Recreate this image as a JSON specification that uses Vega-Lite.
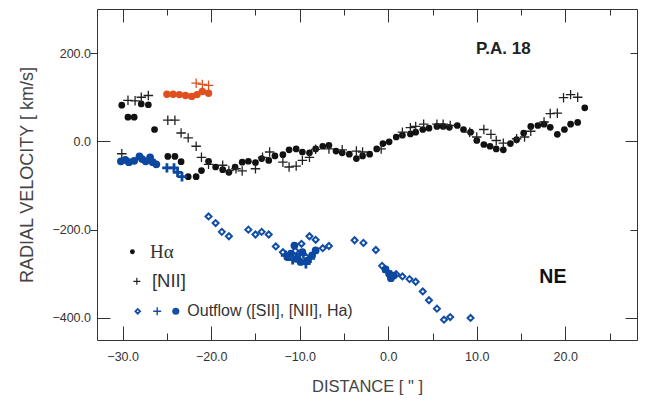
{
  "$schema": "https://vega.github.io/schema/vega-lite/v6.json",
  "width": 540,
  "height": 331,
  "autosize": {"type": "none"},
  "padding": {"left": 97, "top": 9, "right": 10, "bottom": 61},
  "background": "white",
  "config": {
    "view": {"stroke": "#333333", "strokeWidth": 1},
    "axis": {
      "domain": false,
      "grid": false,
      "tickColor": "#333333",
      "tickWidth": 1,
      "labelFont": "Liberation Sans",
      "labelFontSize": 12.5,
      "labelColor": "#333333",
      "titleFont": "Liberation Sans",
      "titleFontWeight": "normal",
      "titleColor": "#444444"
    }
  },
  "datasets": {
    "pts": [
      {"d": -30.1, "v": 82, "s": "ha"}, {"d": -29.4, "v": 55, "s": "ha"}, {"d": -28.7, "v": 55, "s": "ha"},
      {"d": -27.9, "v": 85, "s": "ha"}, {"d": -27.1, "v": 83, "s": "ha"}, {"d": -26.4, "v": 27, "s": "ha"},
      {"d": -24.9, "v": -34, "s": "ha"}, {"d": -24.1, "v": -34, "s": "ha"}, {"d": -23.4, "v": -46, "s": "ha"},
      {"d": -22.6, "v": -80, "s": "ha"}, {"d": -21.7, "v": -80, "s": "ha"}, {"d": -21.1, "v": -66, "s": "ha"},
      {"d": -20.3, "v": -45, "s": "ha"}, {"d": -19.5, "v": -58, "s": "ha"}, {"d": -18.7, "v": -64, "s": "ha"},
      {"d": -18.0, "v": -70, "s": "ha"}, {"d": -17.3, "v": -58, "s": "ha"}, {"d": -16.5, "v": -47, "s": "ha"},
      {"d": -15.8, "v": -45, "s": "ha"}, {"d": -15.0, "v": -48, "s": "ha"}, {"d": -14.3, "v": -39, "s": "ha"},
      {"d": -13.5, "v": -43, "s": "ha"}, {"d": -12.8, "v": -33, "s": "ha"}, {"d": -11.9, "v": -30, "s": "ha"},
      {"d": -11.2, "v": -19, "s": "ha"}, {"d": -10.4, "v": -17, "s": "ha"}, {"d": -9.7, "v": -24, "s": "ha"},
      {"d": -8.9, "v": -26, "s": "ha"}, {"d": -8.2, "v": -17, "s": "ha"}, {"d": -7.4, "v": -11, "s": "ha"},
      {"d": -6.7, "v": -9, "s": "ha"}, {"d": -5.9, "v": -22, "s": "ha"}, {"d": -5.2, "v": -26, "s": "ha"},
      {"d": -4.4, "v": -29, "s": "ha"}, {"d": -3.6, "v": -39, "s": "ha"}, {"d": -2.9, "v": -33, "s": "ha"},
      {"d": -2.1, "v": -29, "s": "ha"}, {"d": -1.3, "v": -17, "s": "ha"}, {"d": -0.6, "v": -5, "s": "ha"},
      {"d": 0.1, "v": -1, "s": "ha"}, {"d": 0.9, "v": 10, "s": "ha"}, {"d": 1.6, "v": 14, "s": "ha"},
      {"d": 2.5, "v": 17, "s": "ha"}, {"d": 3.1, "v": 21, "s": "ha"}, {"d": 3.9, "v": 27, "s": "ha"},
      {"d": 4.6, "v": 30, "s": "ha"}, {"d": 5.5, "v": 34, "s": "ha"}, {"d": 6.2, "v": 34, "s": "ha"},
      {"d": 6.9, "v": 32, "s": "ha"}, {"d": 7.8, "v": 36, "s": "ha"}, {"d": 8.5, "v": 27, "s": "ha"},
      {"d": 9.3, "v": 21, "s": "ha"}, {"d": 10.0, "v": 2, "s": "ha"}, {"d": 10.8, "v": -7, "s": "ha"},
      {"d": 11.5, "v": -11, "s": "ha"}, {"d": 12.2, "v": -17, "s": "ha"}, {"d": 13.0, "v": -19, "s": "ha"},
      {"d": 13.8, "v": -5, "s": "ha"}, {"d": 14.5, "v": 4, "s": "ha"}, {"d": 15.3, "v": 19, "s": "ha"},
      {"d": 16.1, "v": 34, "s": "ha"}, {"d": 16.9, "v": 36, "s": "ha"}, {"d": 17.6, "v": 39, "s": "ha"},
      {"d": 18.3, "v": 32, "s": "ha"}, {"d": 19.1, "v": 16, "s": "ha"}, {"d": 19.9, "v": 27, "s": "ha"},
      {"d": 20.6, "v": 39, "s": "ha"}, {"d": 21.4, "v": 43, "s": "ha"}, {"d": 22.2, "v": 76, "s": "ha"},

      {"d": -30.1, "v": -28, "s": "nii"}, {"d": -29.4, "v": 93, "s": "nii"}, {"d": -28.6, "v": 92, "s": "nii"},
      {"d": -27.9, "v": 100, "s": "nii"}, {"d": -27.1, "v": 104, "s": "nii"}, {"d": -24.9, "v": 48, "s": "nii"},
      {"d": -24.1, "v": 48, "s": "nii"}, {"d": -23.4, "v": 19, "s": "nii"}, {"d": -22.6, "v": 8, "s": "nii"},
      {"d": -21.7, "v": -11, "s": "nii"}, {"d": -21.1, "v": -36, "s": "nii"}, {"d": -20.3, "v": -52, "s": "nii"},
      {"d": -18.7, "v": -54, "s": "nii"}, {"d": -18.0, "v": -66, "s": "nii"}, {"d": -17.2, "v": -62, "s": "nii"},
      {"d": -16.5, "v": -67, "s": "nii"}, {"d": -15.0, "v": -62, "s": "nii"}, {"d": -14.2, "v": -36, "s": "nii"},
      {"d": -13.4, "v": -24, "s": "nii"}, {"d": -11.9, "v": -47, "s": "nii"}, {"d": -11.2, "v": -58, "s": "nii"},
      {"d": -10.4, "v": -56, "s": "nii"}, {"d": -9.7, "v": -43, "s": "nii"}, {"d": -8.9, "v": -36, "s": "nii"},
      {"d": -8.2, "v": -18, "s": "nii"}, {"d": -6.7, "v": -17, "s": "nii"}, {"d": -5.2, "v": -19, "s": "nii"},
      {"d": -3.6, "v": -22, "s": "nii"}, {"d": -2.9, "v": -24, "s": "nii"}, {"d": -0.8, "v": -17, "s": "nii"},
      {"d": 1.6, "v": 21, "s": "nii"}, {"d": 2.5, "v": 31, "s": "nii"}, {"d": 3.1, "v": 34, "s": "nii"},
      {"d": 4.0, "v": 39, "s": "nii"}, {"d": 5.5, "v": 39, "s": "nii"}, {"d": 6.2, "v": 39, "s": "nii"},
      {"d": 7.0, "v": 36, "s": "nii"}, {"d": 9.2, "v": 21, "s": "nii"}, {"d": 10.0, "v": 10, "s": "nii"},
      {"d": 10.8, "v": 27, "s": "nii"}, {"d": 11.6, "v": 16, "s": "nii"}, {"d": 12.2, "v": 2, "s": "nii"},
      {"d": 13.0, "v": -4, "s": "nii"}, {"d": 14.5, "v": 6, "s": "nii"}, {"d": 15.4, "v": 10, "s": "nii"},
      {"d": 16.1, "v": 23, "s": "nii"}, {"d": 17.6, "v": 44, "s": "nii"}, {"d": 18.3, "v": 63, "s": "nii"},
      {"d": 19.1, "v": 64, "s": "nii"}, {"d": 19.8, "v": 99, "s": "nii"}, {"d": 20.6, "v": 106, "s": "nii"},
      {"d": 21.4, "v": 100, "s": "nii"},

      {"d": -25.0, "v": 107, "s": "ha_red"}, {"d": -24.3, "v": 107, "s": "ha_red"}, {"d": -23.6, "v": 106, "s": "ha_red"},
      {"d": -22.9, "v": 104, "s": "ha_red"}, {"d": -22.2, "v": 102, "s": "ha_red"}, {"d": -21.6, "v": 106, "s": "ha_red"},
      {"d": -21.0, "v": 113, "s": "ha_red"}, {"d": -20.3, "v": 109, "s": "ha_red"},
      {"d": -21.7, "v": 132, "s": "nii_red"}, {"d": -21.0, "v": 129, "s": "nii_red"}, {"d": -20.3, "v": 127, "s": "nii_red"},

      {"d": -30.2, "v": -45, "s": "out_ha"}, {"d": -29.7, "v": -42, "s": "out_ha"}, {"d": -29.3, "v": -47, "s": "out_ha"},
      {"d": -28.7, "v": -44, "s": "out_ha"}, {"d": -28.1, "v": -34, "s": "out_ha"}, {"d": -27.8, "v": -40, "s": "out_ha"},
      {"d": -27.4, "v": -45, "s": "out_ha"}, {"d": -26.9, "v": -36, "s": "out_ha"}, {"d": -26.6, "v": -47, "s": "out_ha"},
      {"d": -26.2, "v": -52, "s": "out_ha"},
      {"d": -10.6, "v": -236, "s": "out_ha"}, {"d": -11.0, "v": -254, "s": "out_ha"}, {"d": -10.4, "v": -266, "s": "out_ha"},
      {"d": -9.9, "v": -273, "s": "out_ha"}, {"d": -9.1, "v": -270, "s": "out_ha"}, {"d": -8.6, "v": -258, "s": "out_ha"},
      {"d": -8.2, "v": -247, "s": "out_ha"}, {"d": -9.7, "v": -251, "s": "out_ha"}, {"d": -11.4, "v": -262, "s": "out_ha"},
      {"d": -0.3, "v": -290, "s": "out_ha"}, {"d": 0.1, "v": -300, "s": "out_ha"}, {"d": 0.3, "v": -310, "s": "out_ha"},
      {"d": 0.6, "v": -304, "s": "out_ha"},

      {"d": -25.0, "v": -60, "s": "out_nii"}, {"d": -24.2, "v": -60, "s": "out_nii"}, {"d": -23.8, "v": -70, "s": "out_nii"},
      {"d": -23.3, "v": -80, "s": "out_nii"}, {"d": -10.8, "v": -268, "s": "out_nii"}, {"d": -10.0, "v": -256, "s": "out_nii"},
      {"d": -9.3, "v": -277, "s": "out_nii"}, {"d": -8.8, "v": -265, "s": "out_nii"}, {"d": -11.6, "v": -258, "s": "out_nii"},
      {"d": -0.1, "v": -295, "s": "out_nii"}, {"d": 0.4, "v": -306, "s": "out_nii"},

      {"d": -20.3, "v": -170, "s": "out_sii"}, {"d": -19.5, "v": -185, "s": "out_sii"}, {"d": -18.8, "v": -205, "s": "out_sii"},
      {"d": -18.0, "v": -215, "s": "out_sii"}, {"d": -15.8, "v": -200, "s": "out_sii"}, {"d": -15.0, "v": -211, "s": "out_sii"},
      {"d": -14.3, "v": -205, "s": "out_sii"}, {"d": -13.5, "v": -211, "s": "out_sii"}, {"d": -12.7, "v": -238, "s": "out_sii"},
      {"d": -11.9, "v": -251, "s": "out_sii"}, {"d": -9.8, "v": -232, "s": "out_sii"}, {"d": -8.9, "v": -215, "s": "out_sii"},
      {"d": -8.2, "v": -223, "s": "out_sii"}, {"d": -7.4, "v": -242, "s": "out_sii"}, {"d": -6.7, "v": -237, "s": "out_sii"},
      {"d": -10.5, "v": -248, "s": "out_sii"}, {"d": -9.3, "v": -262, "s": "out_sii"},
      {"d": -3.8, "v": -224, "s": "out_sii"}, {"d": -2.8, "v": -230, "s": "out_sii"}, {"d": -1.4, "v": -246, "s": "out_sii"},
      {"d": -0.7, "v": -282, "s": "out_sii"}, {"d": 0.9, "v": -301, "s": "out_sii"}, {"d": 1.6, "v": -306, "s": "out_sii"},
      {"d": 2.4, "v": -312, "s": "out_sii"}, {"d": 3.1, "v": -318, "s": "out_sii"}, {"d": 3.9, "v": -340, "s": "out_sii"},
      {"d": 4.6, "v": -360, "s": "out_sii"}, {"d": 5.5, "v": -379, "s": "out_sii"}, {"d": 6.3, "v": -404, "s": "out_sii"},
      {"d": 7.0, "v": -398, "s": "out_sii"}, {"d": 9.3, "v": -400, "s": "out_sii"}
    ],
    "key": [
      {"d": -28.9, "v": -250, "s": "ha"},
      {"d": -28.4, "v": -317, "s": "nii"},
      {"d": -28.3, "v": -385, "s": "out_sii"},
      {"d": -26.1, "v": -385, "s": "out_nii"},
      {"d": -24.0, "v": -385, "s": "out_ha"}
    ],
    "notes": [
      {"d": -26.9, "v": -250, "t": "Hα", "g": "serif"},
      {"d": -26.7, "v": -317, "t": "[NII]", "g": "sans"},
      {"d": -22.7, "v": -385, "t": "Outflow ([SII], [NII], Ha)", "g": "small"},
      {"d": 13.0, "v": 210, "t": "P.A. 18", "g": "pa"},
      {"d": 18.6, "v": -307, "t": "NE", "g": "ne"}
    ]
  },
  "layer": [
    {
      "data": {"name": "pts"},
      "transform": [{"filter": "datum.s === 'ha'"}],
      "mark": {"type": "point", "shape": "circle", "filled": true, "size": 45, "color": "#111111", "opacity": 1},
      "encoding": {
        "x": {
          "field": "d", "type": "quantitative",
          "scale": {"domain": [-32.9, 28.1], "nice": false, "zero": false},
          "axis": {
            "orient": "bottom",
            "values": [-30, -25, -20, -15, -10, -5, 0, 5, 10, 15, 20, 25],
            "labelExpr": "datum.value % 10 === 0 ? format(datum.value, '.1f') : ''",
            "tickSize": {"condition": {"test": "datum.value % 10 === 0", "value": -14}, "value": -7},
            "labelPadding": 24,
            "title": "DISTANCE [ \" ]",
            "titleFontSize": 16.5,
            "titleBaseline": "alphabetic",
            "titleY": 51
          }
        },
        "y": {
          "field": "v", "type": "quantitative",
          "scale": {"domain": [-450, 300], "nice": false, "zero": false},
          "axis": {
            "orient": "left",
            "values": [-400, -200, 0, 200],
            "format": ".1f",
            "tickSize": {"condition": {"test": "datum.value % 400 === 0", "value": -13}, "value": 7},
            "labelPadding": {"condition": {"test": "datum.value % 400 === 0", "value": 19.5}, "value": -0.5},
            "title": "RADIAL VELOCITY  [ km/s]",
            "titleFontSize": 18,
            "titleBaseline": "alphabetic",
            "titleX": -65
          }
        }
      }
    },
    {
      "data": {"name": "pts"},
      "transform": [{"filter": "datum.s === 'nii'"}],
      "mark": {"type": "point", "shape": "M-1,0H1M0,-1V1", "filled": false, "size": 90, "stroke": "#222222", "strokeWidth": 1.3, "opacity": 1},
      "encoding": {
        "x": {
          "field": "d", "type": "quantitative",
          "axis": {
            "orient": "top",
            "values": [-30, -25, -20, -15, -10, -5, 0, 5, 10, 15, 20, 25],
            "labels": false,
            "title": null,
            "tickSize": {"condition": {"test": "datum.value % 10 === 0", "value": -13}, "value": -6}
          }
        },
        "y": {
          "field": "v", "type": "quantitative",
          "axis": {
            "orient": "right",
            "values": [-400, -200, 0, 200],
            "labels": false,
            "title": null,
            "tickSize": {"condition": {"test": "datum.value % 400 === 0", "value": -12}, "value": -7}
          }
        }
      }
    },
    {
      "data": {"name": "pts"},
      "transform": [{"filter": "datum.s === 'ha_red'"}],
      "mark": {"type": "point", "shape": "circle", "filled": true, "size": 55, "color": "#e0501e", "opacity": 1},
      "encoding": {
        "x": {"field": "d", "type": "quantitative", "axis": null},
        "y": {"field": "v", "type": "quantitative", "axis": null}
      }
    },
    {
      "data": {"name": "pts"},
      "transform": [{"filter": "datum.s === 'nii_red'"}],
      "mark": {"type": "point", "shape": "M-1,0H1M0,-1V1", "filled": false, "size": 90, "stroke": "#e0501e", "strokeWidth": 1.3, "opacity": 1},
      "encoding": {
        "x": {"field": "d", "type": "quantitative", "axis": null},
        "y": {"field": "v", "type": "quantitative", "axis": null}
      }
    },
    {
      "data": {"name": "pts"},
      "transform": [{"filter": "datum.s === 'out_sii'"}],
      "mark": {"type": "point", "shape": "diamond", "filled": true, "size": 36, "fill": "white", "stroke": "#124ea3", "strokeWidth": 2, "opacity": 1},
      "encoding": {
        "x": {"field": "d", "type": "quantitative", "axis": null},
        "y": {"field": "v", "type": "quantitative", "axis": null}
      }
    },
    {
      "data": {"name": "pts"},
      "transform": [{"filter": "datum.s === 'out_ha'"}],
      "mark": {"type": "point", "shape": "circle", "filled": true, "size": 60, "color": "#0c48a0", "opacity": 1},
      "encoding": {
        "x": {"field": "d", "type": "quantitative", "axis": null},
        "y": {"field": "v", "type": "quantitative", "axis": null}
      }
    },
    {
      "data": {"name": "pts"},
      "transform": [{"filter": "datum.s === 'out_nii'"}],
      "mark": {"type": "point", "shape": "M-1,0H1M0,-1V1", "filled": false, "size": 90, "stroke": "#0c48a0", "strokeWidth": 2.8, "opacity": 1},
      "encoding": {
        "x": {"field": "d", "type": "quantitative", "axis": null},
        "y": {"field": "v", "type": "quantitative", "axis": null}
      }
    },
    {
      "data": {"name": "key"},
      "transform": [{"filter": "datum.s === 'ha'"}],
      "mark": {"type": "point", "shape": "circle", "filled": true, "size": 24, "color": "#111111", "opacity": 1},
      "encoding": {
        "x": {"field": "d", "type": "quantitative", "axis": null},
        "y": {"field": "v", "type": "quantitative", "axis": null}
      }
    },
    {
      "data": {"name": "key"},
      "transform": [{"filter": "datum.s === 'nii'"}],
      "mark": {"type": "point", "shape": "M-1,0H1M0,-1V1", "filled": false, "size": 50, "stroke": "#222222", "strokeWidth": 1.2, "opacity": 1},
      "encoding": {
        "x": {"field": "d", "type": "quantitative", "axis": null},
        "y": {"field": "v", "type": "quantitative", "axis": null}
      }
    },
    {
      "data": {"name": "key"},
      "transform": [{"filter": "datum.s === 'out_sii'"}],
      "mark": {"type": "point", "shape": "diamond", "filled": true, "size": 22, "fill": "white", "stroke": "#124ea3", "strokeWidth": 1.8, "opacity": 1},
      "encoding": {
        "x": {"field": "d", "type": "quantitative", "axis": null},
        "y": {"field": "v", "type": "quantitative", "axis": null}
      }
    },
    {
      "data": {"name": "key"},
      "transform": [{"filter": "datum.s === 'out_nii'"}],
      "mark": {"type": "point", "shape": "M-1,0H1M0,-1V1", "filled": false, "size": 64, "stroke": "#124ea3", "strokeWidth": 1.4, "opacity": 1},
      "encoding": {
        "x": {"field": "d", "type": "quantitative", "axis": null},
        "y": {"field": "v", "type": "quantitative", "axis": null}
      }
    },
    {
      "data": {"name": "key"},
      "transform": [{"filter": "datum.s === 'out_ha'"}],
      "mark": {"type": "point", "shape": "circle", "filled": true, "size": 50, "color": "#124ea3", "opacity": 1},
      "encoding": {
        "x": {"field": "d", "type": "quantitative", "axis": null},
        "y": {"field": "v", "type": "quantitative", "axis": null}
      }
    },
    {
      "data": {"name": "notes"},
      "transform": [{"filter": "datum.g === 'serif'"}],
      "mark": {"type": "text", "align": "left", "baseline": "middle", "font": "Liberation Serif", "fontSize": 19, "color": "#333333"},
      "encoding": {
        "x": {"field": "d", "type": "quantitative", "axis": null},
        "y": {"field": "v", "type": "quantitative", "axis": null},
        "text": {"field": "t"}
      }
    },
    {
      "data": {"name": "notes"},
      "transform": [{"filter": "datum.g === 'sans'"}],
      "mark": {"type": "text", "align": "left", "baseline": "middle", "font": "Liberation Sans", "fontSize": 18.5, "color": "#333333"},
      "encoding": {
        "x": {"field": "d", "type": "quantitative", "axis": null},
        "y": {"field": "v", "type": "quantitative", "axis": null},
        "text": {"field": "t"}
      }
    },
    {
      "data": {"name": "notes"},
      "transform": [{"filter": "datum.g === 'small'"}],
      "mark": {"type": "text", "align": "left", "baseline": "middle", "font": "Liberation Sans", "fontSize": 16, "color": "#333333"},
      "encoding": {
        "x": {"field": "d", "type": "quantitative", "axis": null},
        "y": {"field": "v", "type": "quantitative", "axis": null},
        "text": {"field": "t"}
      }
    },
    {
      "data": {"name": "notes"},
      "transform": [{"filter": "datum.g === 'pa'"}],
      "mark": {"type": "text", "align": "center", "baseline": "middle", "font": "Liberation Sans", "fontSize": 17, "fontWeight": "bold", "color": "#222222"},
      "encoding": {
        "x": {"field": "d", "type": "quantitative", "axis": null},
        "y": {"field": "v", "type": "quantitative", "axis": null},
        "text": {"field": "t"}
      }
    },
    {
      "data": {"name": "notes"},
      "transform": [{"filter": "datum.g === 'ne'"}],
      "mark": {"type": "text", "align": "center", "baseline": "middle", "font": "Liberation Sans", "fontSize": 19.5, "fontWeight": "bold", "color": "#111111"},
      "encoding": {
        "x": {"field": "d", "type": "quantitative", "axis": null},
        "y": {"field": "v", "type": "quantitative", "axis": null},
        "text": {"field": "t"}
      }
    }
  ],
  "resolve": {"axis": {"x": "independent", "y": "independent"}}
}
